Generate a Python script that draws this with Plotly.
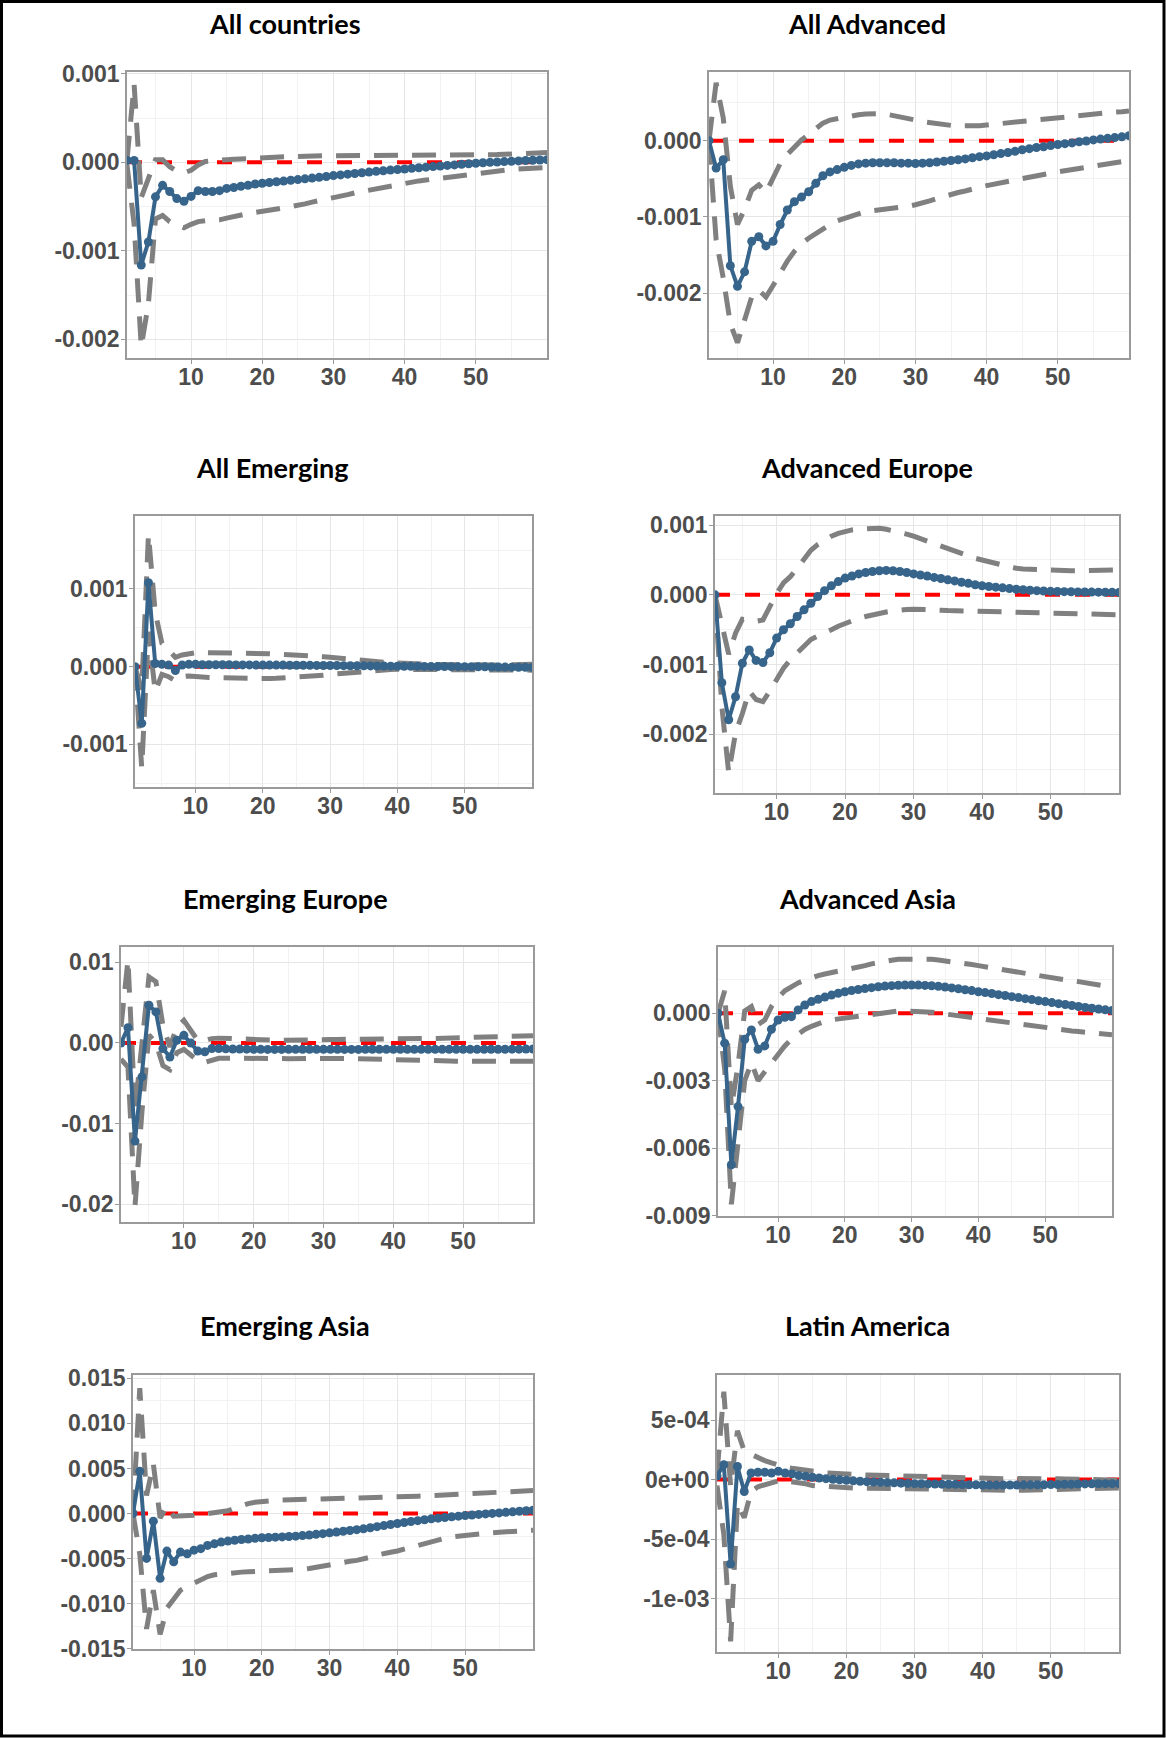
import plotly.graph_objects as go

W, H = 1166, 1738
UNIT = 1e-4  # all series below are written in units of 1e-4
horizon = list(range(1, 61))

titles = ["All countries", "All Advanced", "All Emerging", "Advanced Europe",
          "Emerging Europe", "Advanced Asia", "Emerging Asia", "Latin America"]

# ---------------- All countries ----------------
est_all = [0.2, 0.2, -11.6, -9.0, -3.9, -2.6, -3.3, -4.1, -4.4, -3.85,
           -3.2, -3.3, -3.3, -3.2, -2.95, -2.85, -2.7, -2.6, -2.45, -2.37,
           -2.28, -2.2, -2.12, -2.03, -1.95, -1.87, -1.78, -1.7, -1.6, -1.5,
           -1.42, -1.34, -1.26, -1.18, -1.1, -1.02, -0.95, -0.88, -0.81, -0.75,
           -0.68, -0.61, -0.55, -0.48, -0.41, -0.35, -0.29, -0.22, -0.16, -0.1,
           -0.05, 0.0, 0.04, 0.08, 0.12, 0.16, 0.2, 0.23, 0.26, 0.3]
up_all = [0.3, 8.8, -4.0, -1.9, 0.3, 0.3, -0.5, -1.0, -1.2, -0.9,
          -0.3, 0.1, 0.2, 0.2, 0.3, 0.35, 0.4, 0.45, 0.45, 0.5,
          0.55, 0.6, 0.6, 0.65, 0.65, 0.7, 0.7, 0.72, 0.75, 0.75,
          0.75, 0.75, 0.76, 0.76, 0.76, 0.76, 0.76, 0.76, 0.76, 0.76,
          0.77, 0.77, 0.77, 0.78, 0.78, 0.78, 0.79, 0.79, 0.8, 0.8,
          0.82, 0.84, 0.87, 0.9, 0.93, 0.96, 1.0, 1.03, 1.07, 1.1]
lo_all = [-0.3, -7.0, -20.8, -16.0, -6.4, -6.0, -6.7, -7.1, -7.4, -7.0,
          -6.7, -6.6, -6.6, -6.5, -6.3, -6.1, -5.95, -5.8, -5.65, -5.55,
          -5.4, -5.3, -5.15, -5.0, -4.9, -4.7, -4.5, -4.35, -4.2, -4.0,
          -3.8, -3.65, -3.45, -3.3, -3.1, -2.95, -2.8, -2.6, -2.45, -2.3,
          -2.2, -2.1, -2.0, -1.9, -1.8, -1.7, -1.55, -1.45, -1.3, -1.2,
          -1.1, -1.0, -0.95, -0.9, -0.8, -0.75, -0.7, -0.65, -0.62, -0.6]

# ---------------- All Advanced ----------------
est_adv = [0.0, -3.6, -2.5, -16.4, -19.1, -17.2, -13.2, -12.6, -13.8, -13.2,
           -11.0, -9.1, -8.0, -7.4, -6.7, -5.6, -4.6, -4.1, -3.8, -3.5,
           -3.25, -3.05, -2.95, -2.9, -2.9, -2.9, -2.9, -2.95, -2.95, -3.0,
           -2.95, -2.9, -2.8, -2.7, -2.6, -2.5, -2.4, -2.25, -2.1, -2.0,
           -1.85, -1.7, -1.55, -1.4, -1.2, -1.05, -0.9, -0.8, -0.65, -0.5,
           -0.4, -0.3, -0.15, -0.05, 0.1, 0.2, 0.3, 0.4, 0.5, 0.65]
up_adv = [0.0, 7.6, 3.0, -6.0, -11.0, -9.0, -6.5, -5.8, -6.8, -5.0,
          -3.0, -1.8, -0.8, 0.1, 0.8, 1.6, 2.3, 2.7, 2.9, 3.0,
          3.2, 3.4, 3.5, 3.6, 3.55, 3.45, 3.3, 3.1, 2.9, 2.7,
          2.5, 2.35, 2.2, 2.1, 2.0, 1.95, 1.9, 1.9, 1.95, 2.05,
          2.15, 2.25, 2.35, 2.45, 2.5, 2.6, 2.7, 2.8, 2.9, 3.0,
          3.1, 3.2, 3.25, 3.35, 3.45, 3.55, 3.65, 3.75, 3.8, 3.9]
lo_adv = [0.0, -13.0, -18.0, -24.0, -26.5, -23.5, -20.5, -19.6, -20.5, -19.0,
          -17.3, -15.8, -14.5, -13.5, -12.8, -12.2, -11.5, -11.0, -10.5, -10.2,
          -9.8, -9.5, -9.3, -9.2, -9.1, -9.0, -8.9, -8.7, -8.6, -8.4,
          -8.2, -7.9, -7.6, -7.3, -7.1, -6.8, -6.6, -6.3, -6.1, -5.9,
          -5.7, -5.5, -5.3, -5.1, -4.9, -4.75, -4.6, -4.4, -4.25, -4.1,
          -3.95, -3.8, -3.7, -3.55, -3.4, -3.25, -3.1, -2.95, -2.8, -2.6]

# ---------------- All Emerging ----------------
est_em = [0.0, -7.3, 10.8, 0.4, 0.3, 0.2, -0.5, 0.2, 0.3, 0.3,
          0.25, 0.25, 0.25, 0.25, 0.25, 0.22, 0.22, 0.22, 0.2, 0.2,
          0.2, 0.2, 0.2, 0.18, 0.18, 0.18, 0.17, 0.16, 0.15, 0.15,
          0.14, 0.13, 0.12, 0.11, 0.1, 0.09, 0.08, 0.07, 0.06, 0.05,
          0.05, 0.04, 0.04, 0.03, 0.02, 0.02, 0.01, 0.0, 0.0, 0.0,
          -0.01, -0.02, -0.03, -0.04, -0.05, -0.06, -0.07, -0.08, -0.09, -0.1]
up_em = [0.0, -3.0, 17.0, 7.0, 3.0, 2.0, 1.2, 1.5, 1.7, 1.8,
         1.8, 1.8, 1.8, 1.8, 1.78, 1.76, 1.74, 1.72, 1.71, 1.7,
         1.67, 1.63, 1.6, 1.55, 1.5, 1.45, 1.4, 1.33, 1.27, 1.2,
         1.1, 1.0, 0.9, 0.8, 0.7, 0.65, 0.6, 0.55, 0.5, 0.45,
         0.42, 0.4, 0.37, 0.34, 0.3, 0.28, 0.26, 0.24, 0.22, 0.2,
         0.2, 0.2, 0.2, 0.2, 0.2, 0.22, 0.24, 0.26, 0.28, 0.3]
lo_em = [0.0, -13.0, 4.5, -3.2, -1.0, -1.3, -1.8, -1.3, -1.2, -1.3,
         -1.35, -1.4, -1.42, -1.45, -1.5, -1.5, -1.52, -1.53, -1.54, -1.55,
         -1.53, -1.5, -1.46, -1.4, -1.35, -1.3, -1.24, -1.17, -1.1, -1.0,
         -0.92, -0.84, -0.75, -0.65, -0.55, -0.5, -0.46, -0.42, -0.38, -0.35,
         -0.35, -0.35, -0.35, -0.35, -0.35, -0.36, -0.37, -0.38, -0.39, -0.4,
         -0.4, -0.4, -0.4, -0.4, -0.4, -0.41, -0.42, -0.43, -0.44, -0.45]

# ---------------- Advanced Europe ----------------
est_adveu = [0.0, -12.6, -17.9, -14.6, -9.8, -7.9, -9.4, -9.7, -8.3, -6.2,
             -5.0, -4.15, -3.1, -2.15, -1.2, -0.24, 0.6, 1.3, 1.9, 2.4,
             2.7, 3.0, 3.2, 3.35, 3.45, 3.5, 3.45, 3.35, 3.2, 3.0,
             2.85, 2.7, 2.5, 2.35, 2.15, 2.0, 1.8, 1.65, 1.45, 1.3,
             1.2, 1.1, 1.0, 0.9, 0.8, 0.73, 0.66, 0.6, 0.55, 0.5,
             0.48, 0.46, 0.44, 0.42, 0.4, 0.39, 0.38, 0.37, 0.36, 0.35]
up_adveu = [0.0, -4.5, -8.5, -5.5, -3.5, -3.6, -3.8, -3.6, -1.7, 0.2,
            1.7, 2.6, 3.8, 5.25, 6.4, 7.2, 7.9, 8.4, 8.8, 9.1,
            9.3, 9.4, 9.5, 9.55, 9.55, 9.4, 9.2, 8.95, 8.7, 8.4,
            8.05, 7.7, 7.4, 7.05, 6.7, 6.3, 5.9, 5.5, 5.25, 5.0,
            4.75, 4.5, 4.3, 4.05, 3.8, 3.7, 3.65, 3.6, 3.5, 3.45,
            3.45, 3.45, 3.45, 3.45, 3.45, 3.47, 3.5, 3.53, 3.56, 3.6]
lo_adveu = [0.0, -16.0, -25.5, -19.8, -17.0, -13.8, -15.0, -15.3, -13.8, -12.2,
            -10.5, -9.3, -8.4, -7.4, -6.4, -5.9, -5.5, -5.0, -4.5, -4.1,
            -3.7, -3.35, -3.1, -2.85, -2.6, -2.45, -2.3, -2.15, -2.1, -2.05,
            -2.05, -2.1, -2.15, -2.2, -2.25, -2.28, -2.31, -2.34, -2.37, -2.4,
            -2.42, -2.44, -2.46, -2.48, -2.5, -2.52, -2.54, -2.56, -2.58, -2.6,
            -2.62, -2.64, -2.66, -2.68, -2.7, -2.73, -2.76, -2.79, -2.82, -2.85]

# ---------------- Emerging Europe ----------------
est_emeu = [0.0, 19.0, -121.7, -42.0, 46.8, 38.5, -7.0, -17.4, 3.3, 9.5,
            0.0, -10.0, -11.0, -7.0, -7.0, -7.3, -7.5, -7.6, -7.7, -7.9,
            -7.9, -8.0, -8.0, -8.0, -7.9, -7.9, -7.9, -7.9, -7.9, -7.9,
            -7.9, -7.9, -8.0, -8.0, -8.0, -7.9, -7.9, -7.9, -7.9, -7.9,
            -7.9, -7.9, -7.9, -7.9, -7.9, -7.9, -7.9, -7.9, -7.9, -7.9,
            -7.9, -7.9, -7.9, -7.8, -7.8, -7.8, -7.7, -7.7, -7.6, -7.5]
up_emeu = [20.0, 103.0, -84.0, -5.0, 82.0, 76.0, 22.0, -5.0, 20.0, 28.0,
           16.0, 3.0, 3.0, 5.4, 6.0, 5.5, 5.0, 4.5, 4.2, 4.0,
           3.8, 3.6, 3.5, 3.4, 3.3, 3.4, 3.5, 3.7, 3.9, 4.0,
           4.2, 4.4, 4.6, 4.8, 5.0, 5.1, 5.2, 5.3, 5.35, 5.4,
           5.4, 5.4, 5.4, 5.4, 5.4, 5.6, 5.8, 6.1, 6.4, 6.6,
           6.8, 7.0, 7.1, 7.3, 7.5, 7.8, 8.1, 8.4, 8.7, 9.0]
lo_emeu = [-20.0, -30.0, -203.0, -85.0, 10.0, 0.0, -28.0, -33.0, -12.0, -8.0,
           -15.0, -22.0, -24.0, -21.0, -19.0, -18.8, -18.7, -18.6, -18.6, -18.6,
           -18.8, -19.0, -19.2, -19.4, -19.5, -19.3, -19.1, -18.9, -18.7, -18.6,
           -18.8, -19.0, -19.2, -19.4, -19.5, -19.7, -19.9, -20.2, -20.5, -20.7,
           -20.9, -21.0, -21.2, -21.4, -21.5, -21.8, -22.0, -22.3, -22.6, -22.8,
           -22.8, -22.8, -22.8, -22.8, -22.8, -22.8, -22.8, -22.8, -22.8, -22.8]

# ---------------- Advanced Asia ----------------
est_advas = [0.0, -13.3, -67.4, -41.5, -11.6, -7.4, -16.0, -14.5, -7.1, -3.0,
             -1.8, -1.5, 1.5, 3.7, 5.2, 6.2, 7.2, 8.1, 8.9, 9.6,
             10.1, 10.6, 11.0, 11.4, 11.8, 12.1, 12.3, 12.5, 12.6, 12.6,
             12.55, 12.4, 12.25, 12.0, 11.7, 11.3, 10.9, 10.5, 10.1, 9.6,
             9.2, 8.8, 8.3, 7.9, 7.4, 7.0, 6.5, 6.1, 5.6, 5.2,
             4.75, 4.3, 3.9, 3.45, 3.0, 2.6, 2.25, 1.9, 1.55, 1.2]
up_advas = [0.0, 10.0, -42.0, -23.0, 1.0, 3.0, -5.0, -3.0, 3.0, 7.0,
            10.0, 12.0, 13.5, 14.8, 16.0, 16.8, 17.5, 18.1, 18.6, 19.0,
            19.8, 20.4, 21.2, 22.0, 22.7, 23.2, 23.6, 24.0, 24.1, 24.1,
            24.1, 24.05, 24.0, 23.7, 23.4, 23.0, 22.6, 22.2, 21.7, 21.2,
            20.7, 20.1, 19.6, 19.0, 18.5, 18.0, 17.5, 17.0, 16.5, 16.0,
            15.6, 15.2, 14.8, 14.4, 14.1, 13.6, 13.1, 12.6, 12.1, 11.6]
lo_advas = [0.0, -25.0, -85.0, -55.0, -30.0, -22.0, -30.0, -26.0, -22.0, -18.0,
            -14.5, -11.5, -9.2, -7.2, -5.8, -4.6, -3.6, -2.9, -2.5, -2.2,
            -1.7, -1.2, -0.7, -0.2, 0.3, 0.6, 0.8, 1.0, 1.0, 1.0,
            0.9, 0.7, 0.45, 0.1, -0.3, -0.7, -1.1, -1.5, -1.85, -2.2,
            -2.7, -3.2, -3.7, -4.2, -4.7, -5.1, -5.5, -5.9, -6.3, -6.7,
            -7.0, -7.3, -7.6, -7.85, -8.1, -8.4, -8.7, -9.0, -9.3, -9.6]

# ---------------- Emerging Asia ----------------
est_emas = [0.0, 46.8, -49.8, -8.5, -71.9, -41.7, -53.5, -42.8, -44.6, -40.6,
            -39.0, -35.4, -33.6, -31.7, -30.6, -29.7, -28.8, -28.2, -27.5, -26.9,
            -26.6, -26.2, -25.9, -25.5, -25.1, -24.5, -23.8, -23.1, -22.3, -21.4,
            -20.6, -19.7, -18.8, -17.9, -17.0, -15.8, -14.6, -13.4, -12.2, -11.0,
            -10.0, -8.9, -7.9, -6.9, -5.9, -5.1, -4.4, -3.6, -2.9, -2.2,
            -1.6, -1.0, -0.4, 0.1, 0.7, 1.3, 1.9, 2.5, 3.1, 3.7]
up_emas = [0.0, 139.0, 20.0, 55.0, -5.0, 8.0, -3.0, -3.0, -3.0, -2.0,
           -1.0, 0.0, 0.5, 1.5, 3.0, 6.0, 9.0, 11.0, 12.5, 13.5,
           14.0, 14.5, 15.0, 15.2, 15.3, 15.4, 15.5, 15.5, 15.6, 15.7,
           15.8, 15.9, 16.0, 16.2, 16.3, 16.7, 17.1, 17.5, 17.9, 18.2,
           18.5, 18.9, 19.2, 19.5, 19.8, 20.1, 20.5, 20.8, 21.2, 21.5,
           21.9, 22.3, 22.8, 23.4, 24.0, 24.4, 24.7, 25.0, 25.2, 25.5]
lo_emas = [0.0, -45.0, -128.0, -85.0, -134.0, -105.0, -95.0, -85.0, -81.0, -77.0,
           -73.0, -70.0, -68.0, -67.0, -66.0, -65.5, -65.0, -64.5, -64.2, -64.0,
           -64.0, -64.0, -64.0, -63.5, -63.0, -62.0, -61.0, -59.5, -58.0, -57.0,
           -55.5, -54.0, -53.0, -52.0, -50.5, -48.5, -46.0, -44.0, -43.0, -41.5,
           -39.5, -37.0, -34.5, -33.0, -31.5, -29.5, -27.5, -26.0, -25.0, -24.5,
           -24.0, -23.0, -22.0, -21.3, -20.8, -20.3, -20.0, -19.5, -19.0, -18.5]

# ---------------- Latin America ----------------
est_lat = [0.3, 1.26, -7.1, 1.1, -1.0, 0.56, 0.62, 0.62, 0.56, 0.7,
           0.56, 0.48, 0.34, 0.28, 0.2, 0.14, 0.08, 0.03, -0.02, -0.06,
           -0.1, -0.14, -0.17, -0.2, -0.22, -0.25, -0.27, -0.3, -0.32, -0.34,
           -0.35, -0.36, -0.37, -0.38, -0.39, -0.4, -0.42, -0.43, -0.44, -0.45,
           -0.45, -0.45, -0.45, -0.45, -0.45, -0.44, -0.44, -0.43, -0.43, -0.42,
           -0.41, -0.4, -0.39, -0.37, -0.36, -0.35, -0.35, -0.34, -0.34, -0.34]
up_lat = [0.5, 7.4, -0.6, 4.1, 2.4, 2.1, 1.8, 1.6, 1.4, 1.2,
          1.05, 0.95, 0.85, 0.78, 0.7, 0.63, 0.57, 0.52, 0.48, 0.45,
          0.43, 0.41, 0.39, 0.37, 0.35, 0.33, 0.31, 0.29, 0.27, 0.25,
          0.23, 0.21, 0.19, 0.17, 0.15, 0.13, 0.11, 0.09, 0.07, 0.05,
          0.06, 0.07, 0.08, 0.09, 0.1, 0.1, 0.1, 0.1, 0.1, 0.1,
          0.08, 0.06, 0.04, 0.02, 0.0, -0.01, -0.02, -0.03, -0.04, -0.05]
lo_lat = [-0.5, -4.6, -13.6, -2.0, -3.2, -1.0, -0.6, -0.4, -0.25, -0.1,
          -0.1, -0.15, -0.25, -0.35, -0.5, -0.55, -0.6, -0.65, -0.68, -0.7,
          -0.71, -0.72, -0.73, -0.74, -0.75, -0.77, -0.79, -0.81, -0.83, -0.85,
          -0.86, -0.87, -0.88, -0.89, -0.9, -0.9, -0.9, -0.9, -0.9, -0.9,
          -0.9, -0.9, -0.9, -0.9, -0.9, -0.89, -0.88, -0.87, -0.86, -0.85,
          -0.83, -0.81, -0.79, -0.77, -0.75, -0.74, -0.73, -0.72, -0.71, -0.7]

# ---------------- tick labels ----------------
xtick_vals = [10, 20, 30, 40, 50]
xtick_text = ["10", "20", "30", "40", "50"]
xminor_vals = [5, 15, 25, 35, 45, 55]

yticks = [
    ([0.001, 0.0, -0.001, -0.002], ["0.001", "0.000", "-0.001", "-0.002"]),
    ([0.0, -0.001, -0.002], ["0.000", "-0.001", "-0.002"]),
    ([0.001, 0.0, -0.001], ["0.001", "0.000", "-0.001"]),
    ([0.001, 0.0, -0.001, -0.002], ["0.001", "0.000", "-0.001", "-0.002"]),
    ([0.01, 0.0, -0.01, -0.02], ["0.01", "0.00", "-0.01", "-0.02"]),
    ([0.0, -0.003, -0.006, -0.009], ["0.000", "-0.003", "-0.006", "-0.009"]),
    ([0.015, 0.01, 0.005, 0.0, -0.005, -0.01, -0.015],
     ["0.015", "0.010", "0.005", "0.000", "-0.005", "-0.010", "-0.015"]),
    ([5e-4, 0.0, -5e-4, -1e-3], ["5e-04", "0e+00", "-5e-04", "-1e-03"]),
]
yminor = [
    [0.0005, -0.0005, -0.0015],
    [0.0005, -0.0005, -0.0015, -0.0025],
    [0.0015, 0.0005, -0.0005, -0.0015],
    [0.0005, -0.0005, -0.0015, -0.0025],
    [0.005, -0.005, -0.015],
    [0.0015, -0.0015, -0.0045, -0.0075],
    [0.0125, 0.0075, 0.0025, -0.0025, -0.0075, -0.0125],
    [2.5e-4, -2.5e-4, -7.5e-4, -1.25e-3],
]

series = [
    (est_all, lo_all, up_all), (est_adv, lo_adv, up_adv),
    (est_em, lo_em, up_em), (est_adveu, lo_adveu, up_adveu),
    (est_emeu, lo_emeu, up_emeu), (est_advas, lo_advas, up_advas),
    (est_emas, lo_emas, up_emas), (est_lat, lo_lat, up_lat),
]

# ---------------- layout (pixel boxes) ----------------
boxes = [  # left, top, right, bottom of each plotting panel in pixels
    (127, 72, 547, 358), (709, 72, 1129, 358),
    (135, 516, 532, 787), (715, 516, 1119, 793),
    (121, 947, 533, 1222), (718, 947, 1112, 1216),
    (133, 1375, 533, 1649), (717, 1375, 1119, 1652),
]
yranges = [
    (-0.00221, 0.00102), (-0.00285, 0.0009), (-0.00155, 0.00194), (-0.00284, 0.00113),
    (-0.0222, 0.0119), (-0.00902, 0.00295), (-0.01503, 0.01537), (-0.00145, 0.00088),
]
title_pos = [(285, 23), (867, 23), (272, 467), (867, 467),
             (285, 898), (867, 898), (285, 1325), (867, 1325)]

BLUE = "#36648B"
GREY = "#808080"
AXIS = "#9a9a9a"
GRID = "#e6e6e6"
GRID_MINOR = "#f2f2f2"
TICKFONT = dict(family="Liberation Sans", size=23, color="#4d4d4d", weight="bold")

fig = go.Figure()
layout = dict(template="none", width=W, height=H, autosize=False,
              margin=dict(l=0, r=0, t=0, b=0, pad=0, autoexpand=False),
              paper_bgcolor="white", plot_bgcolor="white", showlegend=False,
              hovermode=False)
annotations = []

for i, (est, lo, up) in enumerate(series):
    k = i + 1
    xa = "x" if k == 1 else f"x{k}"
    ya = "y" if k == 1 else f"y{k}"
    est_v = [v * UNIT for v in est]
    lo_v = [v * UNIT for v in lo]
    up_v = [v * UNIT for v in up]

    fig.add_trace(go.Scatter(x=[horizon[0], horizon[-1]], y=[0, 0], mode="lines",
                             line=dict(color="#ff0000", width=4, dash="15px,15px"),
                             xaxis=xa, yaxis=ya))
    for band in (up_v, lo_v):
        fig.add_trace(go.Scatter(x=horizon, y=band, mode="lines",
                                 line=dict(color=GREY, width=5, dash="24px,14px"),
                                 xaxis=xa, yaxis=ya))
    fig.add_trace(go.Scatter(x=horizon, y=est_v, mode="lines+markers",
                             line=dict(color=BLUE, width=4),
                             marker=dict(color=BLUE, size=9),
                             xaxis=xa, yaxis=ya))

    l, t, r, b = boxes[i]
    xname = "xaxis" if k == 1 else f"xaxis{k}"
    yname = "yaxis" if k == 1 else f"yaxis{k}"
    layout[xname] = dict(
        domain=[l / W, r / W], anchor=ya, range=[1, 60], automargin=False,
        tickmode="array", tickvals=xtick_vals, ticktext=xtick_text,
        ticks="outside", ticklen=4, tickcolor=AXIS, tickwidth=1,
        ticklabelstandoff=-6,
        showline=True, linecolor=AXIS, linewidth=1.5, mirror=True,
        showgrid=True, gridcolor=GRID, gridwidth=1, zeroline=False,
        minor=dict(tickmode="array", tickvals=xminor_vals, showgrid=True,
                   gridcolor=GRID_MINOR, gridwidth=1, ticks=""),
        tickfont=TICKFONT,
    )
    tv, tt = yticks[i]
    layout[yname] = dict(
        domain=[1 - b / H, 1 - t / H], anchor=xa, range=list(yranges[i]),
        automargin=False,
        tickmode="array", tickvals=tv, ticktext=tt,
        ticks="outside", ticklen=4, tickcolor=AXIS, tickwidth=1,
        ticklabelstandoff=-3,
        showline=True, linecolor=AXIS, linewidth=1.5, mirror=True,
        showgrid=True, gridcolor=GRID, gridwidth=1, zeroline=False,
        minor=dict(tickmode="array", tickvals=yminor[i], showgrid=True,
                   gridcolor=GRID_MINOR, gridwidth=1, ticks=""),
        tickfont=TICKFONT,
    )
    tx, ty = title_pos[i]
    annotations.append(dict(text=f"<b>{titles[i]}</b>", xref="paper", yref="paper",
                            x=tx / W, y=1 - ty / H, xanchor="center", yanchor="middle",
                            showarrow=False,
                            font=dict(family="Lato, Open Sans, sans-serif", size=27,
                                      color="black")))

layout["annotations"] = annotations
layout["shapes"] = [dict(type="rect", xref="paper", yref="paper",
                         x0=1.5 / W, x1=1164 / W, y0=1 - 1736 / H, y1=1 - 1.5 / H,
                         line=dict(color="black", width=3), fillcolor="rgba(0,0,0,0)")]
fig.update_layout(**layout)
fig.write_html("out.html", config={"displayModeBar": False},
               post_script="document.body.style.margin='0';document.body.style.overflow='hidden';")
